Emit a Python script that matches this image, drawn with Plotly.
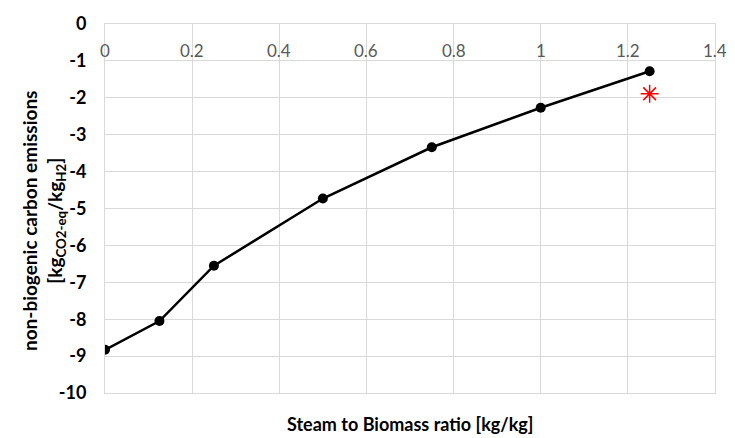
import plotly.graph_objects as go

sb_ratio = [0, 0.125, 0.25, 0.5, 0.75, 1.0, 1.25]
emissions = [-8.83, -8.05, -6.55, -4.73, -3.34, -2.27, -1.28]
ref_x = [1.25]
ref_y = [-1.89]

x_ticks = [0, 0.2, 0.4, 0.6, 0.8, 1.0, 1.2, 1.4]
x_labels = ["0", "0.2", "0.4", "0.6", "0.8", "1", "1.2", "1.4"]
y_ticks = [0, -1, -2, -3, -4, -5, -6, -7, -8, -9, -10]
y_labels = ["0", "-1", "-2", "-3", "-4", "-5", "-6", "-7", "-8", "-9", "-10"]

fig = go.Figure()
fig.add_trace(go.Scatter(x=sb_ratio, y=emissions, mode="lines+markers",
                         line=dict(color="black", width=2.5),
                         marker=dict(color="black", size=10), showlegend=False))
fig.add_trace(go.Scatter(x=ref_x, y=ref_y, mode="markers",
                         marker=dict(symbol="asterisk-open", color="red", size=15,
                                     line=dict(color="red", width=1.5)),
                         showlegend=False))

annotations = [
    dict(text="<b>Steam to Biomass ratio [kg/kg]</b>", xref="paper", yref="paper",
         x=0.5, y=-0.05, xanchor="center", yanchor="top", showarrow=False,
         font=dict(size=18, color="black")),
    dict(text="<b>non-biogenic carbon emissions<br>[kg<sub>CO2-eq</sub>/kg<sub>H2</sub>]</b>",
         xref="paper", yref="paper", x=0, y=0.466, xanchor="center", yanchor="middle",
         xshift=-62, textangle=-90, showarrow=False, font=dict(size=19, color="black")),
]
for xv, xl in zip(x_ticks, x_labels):
    annotations.append(dict(text=xl, x=xv, y=0, xref="x", yref="y", yanchor="top",
                            xanchor="center", yshift=-14, showarrow=False,
                            font=dict(size=17, color="#595959")))

fig.update_layout(
    width=735, height=438,
    margin=dict(l=105, r=20, t=22, b=45),
    paper_bgcolor="white", plot_bgcolor="white",
    font=dict(family="Lato", color="black"),
    xaxis=dict(range=[0, 1.4], tickvals=x_ticks, showticklabels=False,
               showgrid=True, gridcolor="#d9d9d9", gridwidth=1,
               showline=True, linecolor="#d9d9d9", mirror=True, zeroline=False,
               ticks=""),
    yaxis=dict(range=[-10, 0], tickvals=y_ticks, ticktext=["<b>%s</b>" % t for t in y_labels],
               showgrid=True, gridcolor="#d9d9d9", gridwidth=1,
               showline=True, linecolor="#d9d9d9", mirror=True, zeroline=False,
               ticks="", ticklabelstandoff=14, tickfont=dict(size=18, color="black")),
    annotations=annotations,
)
fig.write_html("out.html")
